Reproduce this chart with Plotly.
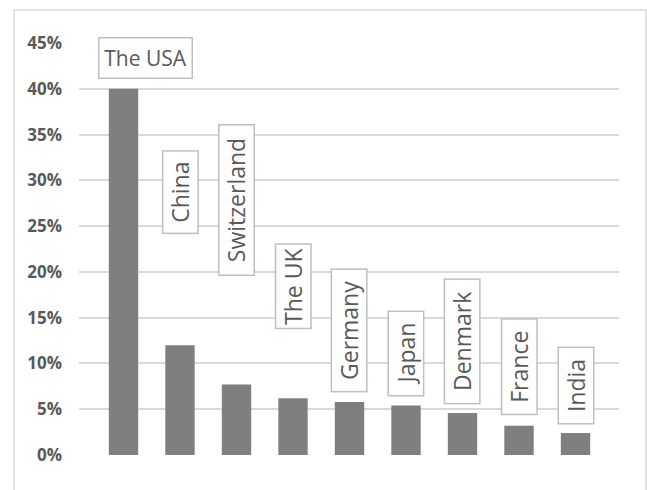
import plotly.graph_objects as go

countries = ["The USA", "China", "Switzerland", "The UK", "Germany", "Japan", "Denmark", "France", "India"]
shares = [0.40, 0.12, 0.077, 0.062, 0.058, 0.054, 0.046, 0.032, 0.024]
tick_vals = [0, 0.05, 0.10, 0.15, 0.20, 0.25, 0.30, 0.35, 0.40, 0.45]
tick_text = ["0%", "5%", "10%", "15%", "20%", "25%", "30%", "35%", "40%", "45%"]

# label box styling (pixels): gap above bar, box length along text, rotation
label_gap = [10, 111, 108, 69, 9, 9, 8, 10, 8]
label_len = [95, 84, 152, 86, 124, 86, 126, 97, 78]
label_angle = [0, -90, -90, -90, -90, -90, -90, -90, -90]
label_xshift = [21.5, 0, 0, 0, 0, 0, 0, 0, 0]

W, H = 647, 490
ML, MR, MT, MB = 79, 28, 43, 35
PW, PH = W - ML - MR, H - MT - MB

x_idx = list(range(len(countries)))

fig = go.Figure(go.Bar(
    x=x_idx, y=shares, width=0.52,
    marker=dict(color="#7f7f7f", line=dict(width=0)),
    hoverinfo="skip",
))

ann = []
for i, (c, v) in enumerate(zip(countries, shares)):
    rot = label_angle[i] != 0
    bw = 1.5
    if rot:
        w, h = label_len[i] - 2 * bw, 36.7 - 2 * bw
        size = 23
    else:
        w, h = label_len[i] - 2 * bw, 42 - 2 * bw
        size = 21
    ann.append(dict(
        x=i, y=v, xref="x", yref="y", text=c, showarrow=False,
        textangle=label_angle[i], xanchor="center", yanchor="bottom",
        yshift=label_gap[i], xshift=label_xshift[i],
        width=w, height=h, borderwidth=bw, borderpad=0,
        bordercolor="#bfbfbf", bgcolor="#ffffff",
        font=dict(family="Open Sans", size=size, color="#595959"),
    ))

px_per_cat = 56.5
r0 = -(123.5 - ML) / px_per_cat
r1 = r0 + PW / px_per_cat

fig.update_layout(
    width=W, height=H,
    margin=dict(l=ML, r=MR, t=MT, b=MB, pad=0),
    paper_bgcolor="white", plot_bgcolor="white",
    showlegend=False,
    annotations=ann,
    xaxis=dict(range=[r0, r1], showticklabels=False, showgrid=False,
               zeroline=False, showline=False, ticks=""),
    yaxis=dict(range=[0, 0.45], tickvals=tick_vals, ticktext=tick_text,
               showgrid=True, gridcolor="#d9d9d9", gridwidth=1.5,
               zeroline=False, showline=False, ticks="",
               ticklabelstandoff=16,
               tickfont=dict(family="Open Sans", size=17, color="#595959", weight="bold")),
    shapes=[dict(type="rect", xref="paper", yref="paper",
                 x0=(14 - ML) / PW, x1=(646 - ML) / PW,
                 y0=(H - MB - 500) / PH, y1=(H - MB - 10) / PH,
                 line=dict(color="#d9d9d9", width=1.5), fillcolor="rgba(0,0,0,0)",
                 layer="below")],
)

fig.write_html("out.html")
